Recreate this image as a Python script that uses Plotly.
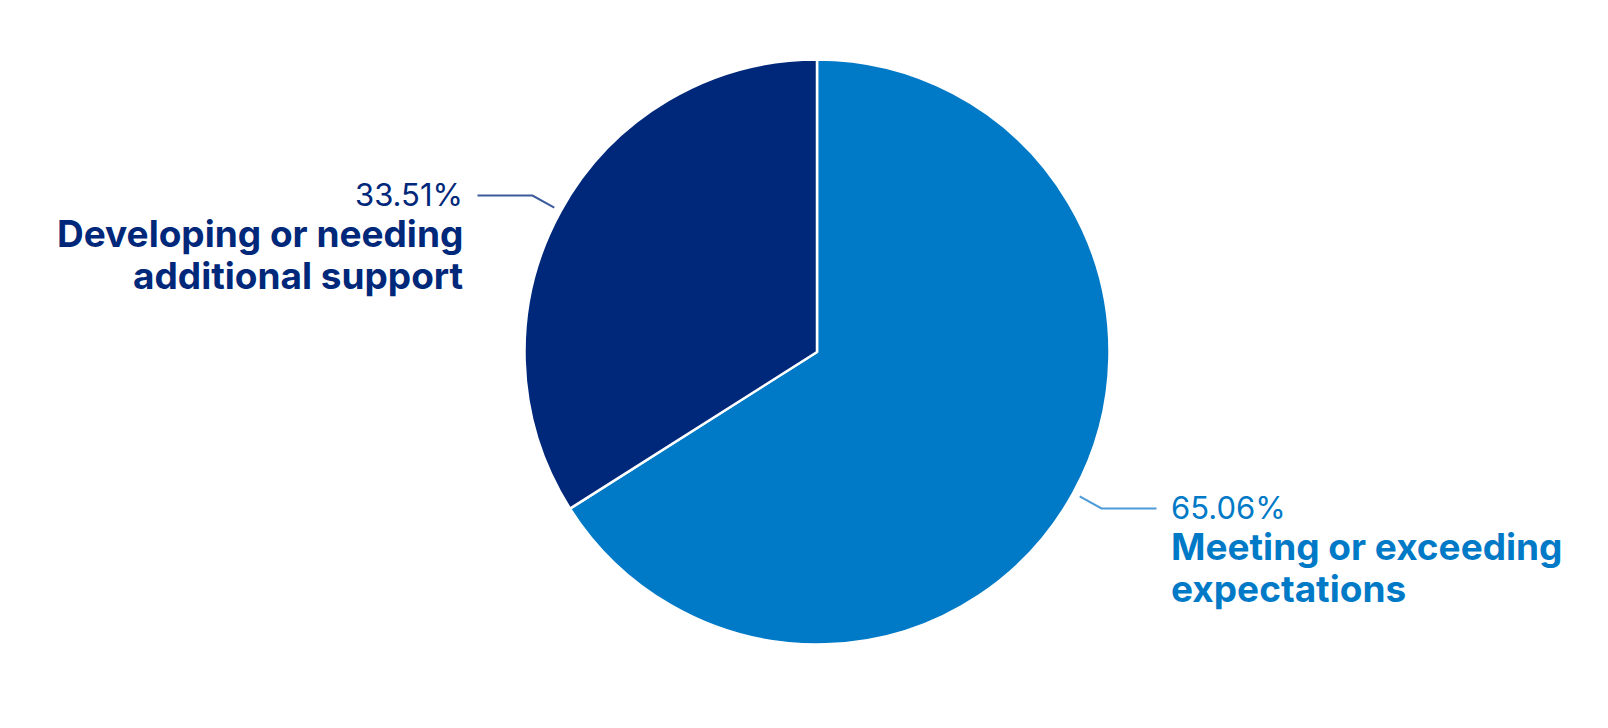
import math
import plotly.graph_objects as go

# ---- data ----
categories = ["Meeting or exceeding expectations", "Developing or needing additional support"]
label_lines = [["Meeting or exceeding", "expectations"], ["Developing or needing", "additional support"]]
values = [65.06, 33.51]
pct_text = ["65.06%", "33.51%"]
colors = ["#007AC7", "#00287A"]
line_colors = ["#4C9BD8", "#3B5A9C"]

W, H = 1608, 728
OFF = 8  # page body margin
# pie geometry in pixels (layout)
cx, cy, R = 817, 352, 292.5


def px(x):
    return (x - OFF) / W


def py(y):
    return 1 - (y - OFF) / H


fig = go.Figure(go.Pie(
    labels=categories,
    values=values,
    sort=False,
    direction="clockwise",
    rotation=0,
    marker=dict(colors=colors, line=dict(color="white", width=2.5)),
    textinfo="none",
    hoverinfo="label+value",
    showlegend=False,
    domain=dict(x=[px(cx - R), px(cx + R)], y=[py(cy + R), py(cy - R)]),
))

total = sum(values)
start = 0.0
shapes = []
annotations = []
for i, v in enumerate(values):
    frac = v / total
    mid = (start + frac / 2) * 2 * math.pi  # clockwise from top
    start += frac
    dx, dy = math.sin(mid), -math.cos(mid)
    x0, y0 = cx + 1.025 * R * dx, cy + 1.025 * R * dy
    x1, y1 = cx + 1.11 * R * dx, cy + 1.11 * R * dy
    side = 1 if dx >= 0 else -1
    x2 = x1 + side * 55
    path = f"M {px(x0)} {py(y0)} L {px(x1)} {py(y1)} L {px(x2)} {py(y1)}"
    shapes.append(dict(type="path", xref="paper", yref="paper", path=path,
                       line=dict(color=line_colors[i], width=2)))
    tx = x2 + side * 13
    anchor = "left" if side > 0 else "right"
    annotations.append(dict(
        x=px(tx), y=py(y1 - 1), xref="paper", yref="paper",
        xanchor=anchor, yanchor="middle", showarrow=False, align=anchor,
        text=pct_text[i],
        font=dict(family="Inter", size=31, color=colors[i]),
    ))
    for j, line in enumerate(label_lines[i]):
        annotations.append(dict(
            x=px(tx), y=py(y1 + 38 + 42 * j), xref="paper", yref="paper",
            xanchor=anchor, yanchor="middle", showarrow=False, align=anchor,
            text=f"<b>{line}</b>",
            font=dict(family="Inter", size=37, color=colors[i]),
        ))

fig.update_layout(
    width=W, height=H,
    margin=dict(l=0, r=0, t=0, b=0),
    paper_bgcolor="white",
    plot_bgcolor="white",
    shapes=shapes,
    annotations=annotations,
)

fig.write_html("out.html")
